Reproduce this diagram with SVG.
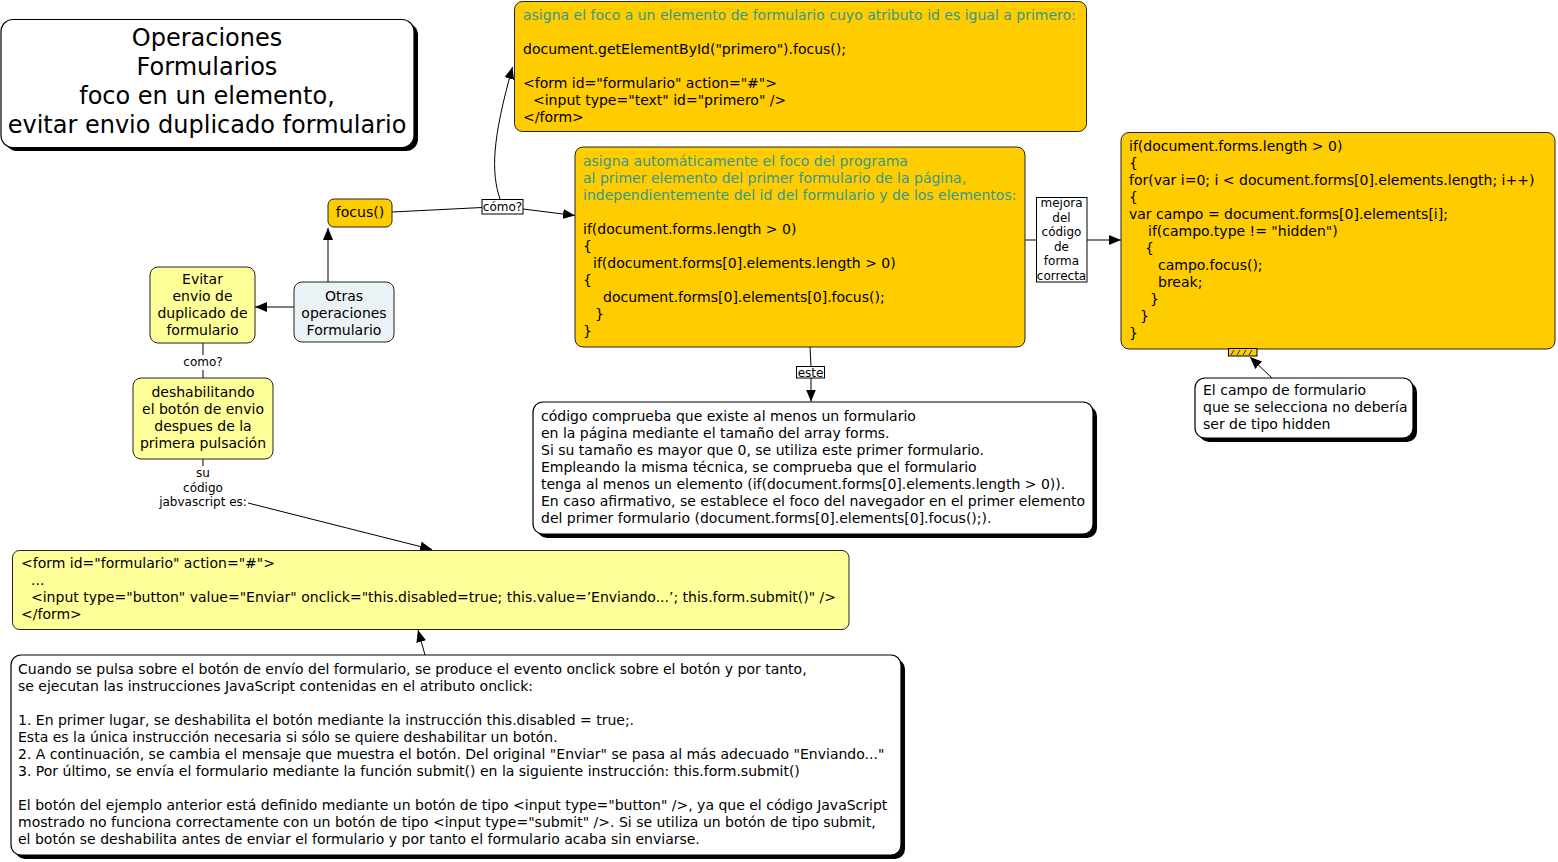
<svg xmlns="http://www.w3.org/2000/svg" width="1558" height="862" viewBox="0 0 1558 862">
<defs>
<marker id="arr" viewBox="0 0 12 10" refX="12" refY="5" markerWidth="12" markerHeight="10" orient="auto" markerUnits="userSpaceOnUse">
<path d="M0,0 L12,5 L0,10 z" fill="#000"/>
</marker>
</defs>
<style>
text{font-family:"DejaVu Sans",Verdana,sans-serif;font-size:14px;fill:#000}
.t{fill:#37998A}
.c{text-anchor:middle}
.lbl{font-size:12px}
.title{font-size:24px;text-anchor:middle}
.or{fill:#FFCC00;stroke:#222;stroke-width:1}
.ye{fill:#FFFF99;stroke:#222;stroke-width:1}
.bl{fill:#EBF2F5;stroke:#222;stroke-width:1}
.wh{fill:#fff;stroke:#000;stroke-width:1.2}
.sh{fill:#000}
.ln{fill:none;stroke:#000;stroke-width:1}
.lb{fill:#fff;stroke:#000;stroke-width:1}
</style>
<rect width="1558" height="862" fill="#fff"/>

<g id="connectors">
<path class="ln" d="M392,212 L482,207.5"/>
<path class="ln" d="M523,209 L575,215.5" marker-end="url(#arr)"/>
<path class="ln" d="M500,199 C491,172 492,140 512.5,67" marker-end="url(#arr)"/>
<rect class="lb" x="482" y="199.5" width="41" height="14.5"/>
<text class="lbl c" x="502.5" y="211">cómo?</text>
<path class="ln" d="M328,282 L328,228" marker-end="url(#arr)"/>
<path class="ln" d="M294,307 L255,307" marker-end="url(#arr)"/>
<path class="ln" d="M203,343 L203,355 M203,370 L203,378"/>
<text class="lbl c" x="203" y="366">como?</text>
<path class="ln" d="M203,459 L203,466"/>
<text class="lbl c" x="203" y="477">su</text>
<text class="lbl c" x="203" y="492">código</text>
<text class="lbl c" x="203" y="506">jabvascript es:</text>
<path class="ln" d="M248,503 L432,549.5" marker-end="url(#arr)"/>
<path class="ln" d="M425,655 L418,630" marker-end="url(#arr)"/>
<path class="ln" d="M810,347 L811,366.5 M811,378 L811,401.5" marker-end="url(#arr)"/>
<rect class="lb" x="796.5" y="366.5" width="28" height="11.5"/>
<text class="lbl c" x="810.5" y="376.5">este</text>
<path class="ln" d="M1025,240 L1036,240 M1087,240 L1121,240" marker-end="url(#arr)"/>
<rect class="lb" x="1036.5" y="197.5" width="50.5" height="84.5"/>
<text class="lbl c" x="1061.5" y="207">mejora</text>
<text class="lbl c" x="1061.5" y="221.5">del</text>
<text class="lbl c" x="1061.5" y="236">código</text>
<text class="lbl c" x="1061.5" y="250.5">de</text>
<text class="lbl c" x="1061.5" y="265">forma</text>
<text class="lbl c" x="1061.5" y="279.5">correcta</text>
<path class="ln" d="M1272,378 L1250,357" marker-end="url(#arr)"/>
</g>

<g id="title">
<rect class="sh" x="5" y="23" width="413" height="128" rx="12"/>
<rect class="wh" x="1" y="19.5" width="413" height="128" rx="12"/>
<text class="title" x="207" y="45.5">Operaciones</text>
<text class="title" x="207" y="74.5">Formularios</text>
<text class="title" x="207" y="103.5">foco en un elemento,</text>
<text class="title" x="207" y="132.5">evitar envio duplicado formulario</text>
</g>

<g id="focus-id">
<rect class="or" x="514.5" y="1.5" width="572" height="130" rx="8"/>
<text class="t" x="523" y="20">asigna el foco a un elemento de formulario cuyo atributo id es igual a primero:</text>
<text x="523" y="54">document.getElementById("primero").focus();</text>
<text x="523" y="88">&lt;form id="formulario" action="#"&gt;</text>
<text x="533" y="105">&lt;input type="text" id="primero" /&gt;</text>
<text x="523" y="122">&lt;/form&gt;</text>
</g>

<g id="focus-auto">
<rect class="or" x="575" y="147" width="450" height="200" rx="8"/>
<text class="t" x="583" y="166">asigna automáticamente el foco del programa</text>
<text class="t" x="583" y="183">al primer elemento del primer formulario de la página,</text>
<text class="t" x="583" y="200">independientemente del id del formulario y de los elementos:</text>
<text x="583" y="234">if(document.forms.length &gt; 0)</text>
<text x="583" y="251">{</text>
<text x="593" y="268">if(document.forms[0].elements.length &gt; 0)</text>
<text x="583" y="285">{</text>
<text x="603" y="302">document.forms[0].elements[0].focus();</text>
<text x="595" y="319">}</text>
<text x="583" y="336">}</text>
</g>

<g id="focus-mejorado">
<rect class="or" x="1121" y="132.5" width="434" height="216.5" rx="8"/>
<text x="1129" y="151">if(document.forms.length &gt; 0)</text>
<text x="1129" y="168">{</text>
<text x="1129" y="185">for(var i=0; i &lt; document.forms[0].elements.length; i++)</text>
<text x="1129" y="202">{</text>
<text x="1129" y="219">var campo = document.forms[0].elements[i];</text>
<text x="1148" y="236">if(campo.type != "hidden")</text>
<text x="1145" y="253">{</text>
<text x="1158" y="270">campo.focus();</text>
<text x="1158" y="287">break;</text>
<text x="1150" y="304">}</text>
<text x="1140" y="321">}</text>
<text x="1129" y="338">}</text>
</g>

<g id="hidden-marker">
<rect x="1228.5" y="348.5" width="28.5" height="7.5" fill="#FFCC00" stroke="#000" stroke-width="1"/>
<path d="M1231,355 L1234,350 M1237,355 L1240,350 M1243,355 L1246,350 M1249,355 L1252,350" stroke="#000" stroke-width="0.8" fill="none"/>
</g>

<g id="nota-hidden">
<rect class="sh" x="1199" y="382" width="218" height="60" rx="10"/>
<rect class="wh" x="1195" y="378" width="218" height="60" rx="10"/>
<text x="1203" y="395">El campo de formulario</text>
<text x="1203" y="412">que se selecciona no debería</text>
<text x="1203" y="429">ser de tipo hidden</text>
</g>

<g id="focus">
<rect class="or" x="328" y="199" width="64" height="28" rx="6"/>
<text class="c" x="360" y="217">focus()</text>
</g>

<g id="otras">
<rect class="bl" x="294" y="282" width="100" height="60" rx="8"/>
<text class="c" x="344" y="301">Otras</text>
<text class="c" x="344" y="318">operaciones</text>
<text class="c" x="344" y="335">Formulario</text>
</g>

<g id="evitar">
<rect class="ye" x="150" y="267" width="105" height="76" rx="8"/>
<text class="c" x="202.5" y="284">Evitar</text>
<text class="c" x="202.5" y="301">envio de</text>
<text class="c" x="202.5" y="318">duplicado de</text>
<text class="c" x="202.5" y="335">formulario</text>
</g>

<g id="deshabilitando">
<rect class="ye" x="133" y="378" width="140" height="81" rx="8"/>
<text class="c" x="203" y="397">deshabilitando</text>
<text class="c" x="203" y="414">el botón de envio</text>
<text class="c" x="203" y="431">despues de la</text>
<text class="c" x="203" y="448">primera pulsación</text>
</g>

<g id="explicacion-focus">
<rect class="sh" x="537" y="406" width="560" height="132" rx="10"/>
<rect class="wh" x="533" y="402" width="560" height="132" rx="10"/>
<text x="541" y="421">código comprueba que existe al menos un formulario</text>
<text x="541" y="438">en la página mediante el tamaño del array forms.</text>
<text x="541" y="455">Si su tamaño es mayor que 0, se utiliza este primer formulario.</text>
<text x="541" y="472">Empleando la misma técnica, se comprueba que el formulario</text>
<text x="541" y="489">tenga al menos un elemento (if(document.forms[0].elements.length &gt; 0)).</text>
<text x="541" y="506">En caso afirmativo, se establece el foco del navegador en el primer elemento</text>
<text x="541" y="523">del primer formulario (document.forms[0].elements[0].focus();).</text>
</g>

<g id="codigo-boton">
<rect class="ye" x="12.5" y="550.5" width="836.5" height="79" rx="7"/>
<text x="21" y="568">&lt;form id="formulario" action="#"&gt;</text>
<text x="31" y="585">...</text>
<text x="31" y="602">&lt;input type="button" value="Enviar" onclick="this.disabled=true; this.value=’Enviando...’; this.form.submit()" /&gt;</text>
<text x="21" y="619">&lt;/form&gt;</text>
</g>

<g id="explicacion-boton">
<rect class="sh" x="15" y="659" width="890" height="200" rx="10"/>
<rect class="wh" x="11" y="655" width="890" height="200" rx="10"/>
<text x="18" y="674">Cuando se pulsa sobre el botón de envío del formulario, se produce el evento onclick sobre el botón y por tanto,</text>
<text x="18" y="691">se ejecutan las instrucciones JavaScript contenidas en el atributo onclick:</text>
<text x="18" y="725">1. En primer lugar, se deshabilita el botón mediante la instrucción this.disabled = true;.</text>
<text x="18" y="742">Esta es la única instrucción necesaria si sólo se quiere deshabilitar un botón.</text>
<text x="18" y="759">2. A continuación, se cambia el mensaje que muestra el botón. Del original "Enviar" se pasa al más adecuado "Enviando..."</text>
<text x="18" y="776">3. Por último, se envía el formulario mediante la función submit() en la siguiente instrucción: this.form.submit()</text>
<text x="18" y="810">El botón del ejemplo anterior está definido mediante un botón de tipo &lt;input type="button" /&gt;, ya que el código JavaScript</text>
<text x="18" y="827">mostrado no funciona correctamente con un botón de tipo &lt;input type="submit" /&gt;. Si se utiliza un botón de tipo submit,</text>
<text x="18" y="844">el botón se deshabilita antes de enviar el formulario y por tanto el formulario acaba sin enviarse.</text>
</g>
</svg>
